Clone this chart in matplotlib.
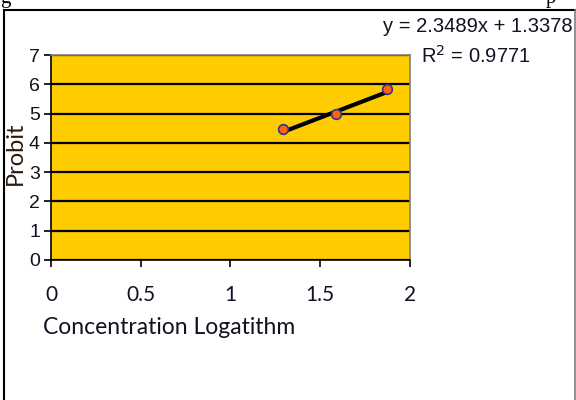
import matplotlib
matplotlib.use("Agg")
import matplotlib.pyplot as plt
from matplotlib.lines import Line2D

# data
log_conc = [1.29, 1.59, 1.87]
probit = [4.47, 4.97, 5.83]
slope, intercept, r2 = 2.3489, 1.3378, 0.9771

x_ticks = [0, 0.5, 1, 1.5, 2]
x_tick_labels = ["0", "0.5", "1", "1.5", "2"]
y_ticks = [0, 1, 2, 3, 4, 5, 6, 7]

W, H = 576, 400
fig = plt.figure(figsize=(W / 100, H / 100), dpi=100)
ax = fig.add_axes([51 / W, 1 - 260 / H, (410 - 51) / W, (260 - 55) / H])

ax.set_facecolor("#FFCC00")
# linear trendline over the data range
trend_x = [min(log_conc), max(log_conc)]
trend_y = [slope * v + intercept for v in trend_x]
ax.plot(trend_x, trend_y, color="black", lw=3, zorder=3)
ax.plot(log_conc, probit, ls="none", marker="o", ms=7,
        mfc="#FF6600", mec="#333399", mew=1.2, zorder=4)

ax.set_xlim(0, 2)
ax.set_ylim(0, 7)
ax.set_yticks(y_ticks)
ax.set_xticks(x_ticks)
ax.set_xticklabels(x_tick_labels, fontfamily="Lato", fontsize=15)
for lbl in ax.get_yticklabels():
    lbl.set_fontfamily("Liberation Sans")
    lbl.set_fontsize(14)
ax.yaxis.grid(True, color="black", lw=1.6)
ax.set_axisbelow(True)

ax.tick_params(axis="y", direction="out", length=5, width=1.2, pad=3, colors="black")
ax.tick_params(axis="x", direction="out", length=5, width=1.2, pad=13, colors="black")
for lbl in ax.get_xticklabels() + ax.get_yticklabels():
    lbl.set_color("#111122")

for side in ["left", "bottom"]:
    ax.spines[side].set_color("black")
    ax.spines[side].set_linewidth(1.2)
for side in ["top", "right"]:
    ax.spines[side].set_color("#808080")
    ax.spines[side].set_linewidth(1.2)

fig.text(43 / W, 1 - 328 / H, "Concentration Logatithm", fontfamily="Lato",
         fontsize=16.5, va="center", ha="left", color="#111122")
fig.text(15 / W, 1 - 153 / H, "Probit", fontfamily="Lato", fontsize=17,
         rotation=90, va="center", ha="center", color="#2a1a10")

fig.text(573 / W, 1 - 27 / H, f"y = {slope}x + {intercept}", fontfamily="Liberation Sans",
         fontsize=14.5, ha="right", va="center", color="#111122")
fig.text(476 / W, 1 - 56 / H, f"R$^2$ = {r2}", fontfamily="Liberation Sans",
         fontsize=14.5, ha="center", va="center", color="#111122")

# cut-off caption letters at the top edge
fig.text(0 / W, 1 - 3 / H, "g", fontfamily="Liberation Serif", fontsize=15,
         ha="left", va="baseline")
fig.text(556 / W, 1 - 3 / H, "p", fontfamily="Liberation Serif", fontsize=15,
         ha="right", va="baseline")

# outer frame of the pasted chart
fig.add_artist(Line2D([4 / W, 4 / W], [0, 1 - 10 / H], color="black", lw=1.5))
fig.add_artist(Line2D([4 / W, 1], [1 - 10 / H, 1 - 10 / H], color="black", lw=1.5))
fig.add_artist(Line2D([574.5 / W, 574.5 / W], [0, 1 - 10 / H], color="#808080", lw=1.2))

fig.savefig("out.png", dpi=100)
